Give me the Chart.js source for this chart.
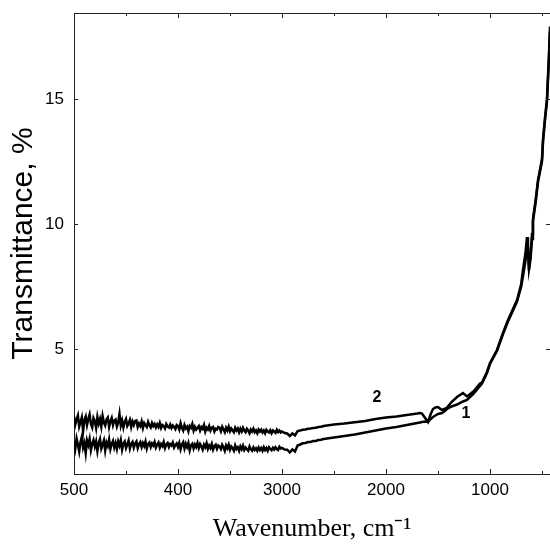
<!DOCTYPE html>
<html>
<head>
<meta charset="utf-8">
<script src="https://cdn.jsdelivr.net/npm/chart.js@4.4.1/dist/chart.umd.min.js"></script>
<style>
  html, body { margin: 0; padding: 0; background: #fff; }
  #wrap { width: 550px; height: 547px; }
</style>
</head>
<body>
<div id="wrap"><canvas id="spectrum"></canvas></div>
<script>
// Wavenumbers (cm-1), shared by both spectra
const wavenumbers = [
  5000, 4987.5, 4975, 4962.5, 4950, 4937.5, 4925, 4912.5, 4900, 4887.5, 4875, 4862.5, 4850, 4837.5, 4825, 4812.5,
  4800, 4787.5, 4775, 4762.5, 4750, 4737.5, 4725, 4712.5, 4700, 4687.5, 4675, 4662.5, 4650, 4637.5, 4625, 4612.5,
  4600, 4587.5, 4575, 4562.5, 4550, 4537.5, 4525, 4512.5, 4500, 4487.5, 4475, 4462.5, 4450, 4437.5, 4425, 4412.5,
  4400, 4387.5, 4375, 4362.5, 4350, 4337.5, 4325, 4312.5, 4300, 4287.5, 4275, 4262.5, 4250, 4237.5, 4225, 4212.5,
  4200, 4187.5, 4175, 4162.5, 4150, 4137.5, 4125, 4112.5, 4100, 4087.5, 4075, 4062.5, 4050, 4037.5, 4025, 4012.5,
  4000, 3987.5, 3975, 3962.5, 3950, 3937.5, 3925, 3912.5, 3900, 3887.5, 3875, 3862.5, 3850, 3837.5, 3825, 3812.5,
  3800, 3787.5, 3775, 3762.5, 3750, 3737.5, 3725, 3712.5, 3700, 3687.5, 3675, 3662.5, 3650, 3637.5, 3625, 3612.5,
  3600, 3587.5, 3575, 3562.5, 3550, 3537.5, 3525, 3512.5, 3500, 3487.5, 3475, 3462.5, 3450, 3437.5, 3425, 3412.5,
  3400, 3387.5, 3375, 3362.5, 3350, 3337.5, 3325, 3312.5, 3300, 3287.5, 3275, 3262.5, 3250, 3237.5, 3225, 3212.5,
  3200, 3187.5, 3175, 3162.5, 3150, 3137.5, 3125, 3112.5, 3100, 3087.5, 3075, 3062.5, 3050, 3037.5, 3025, 3012.5,
  3000, 2975, 2950, 2925, 2900, 2875, 2850, 2825, 2800, 2775, 2750, 2725, 2700, 2675, 2650, 2625, 2600,
  2500, 2400, 2300, 2200, 2100, 2000, 1900, 1800, 1700, 1673, 1654, 1620, 1596, 1570, 1548,
  1525, 1500, 1462, 1440, 1413, 1370, 1317, 1260, 1221, 1160, 1096, 1077, 1029, 1000, 933, 875,
  827, 740, 700, 683, 660, 644, 635, 625, 610, 596, 587, 560, 538, 500, 490, 470, 452, 433, 423
];

// Curve 1 (lower), transmittance %
const curve1 = [
  1.30, 1.02, 1.42, 1.18, 0.90, 1.28, 1.48, 1.06, 1.24, 0.84, 1.34, 1.16, 1.40, 0.96, 1.22, 1.36,
  1.10, 1.30, 0.92, 1.24, 1.40, 1.02, 1.18, 1.34, 0.94, 1.26, 1.12, 1.38, 1.00, 1.20, 1.32, 1.06,
  1.24, 1.00, 1.30, 1.14, 1.36, 0.98, 1.22, 1.30, 1.04, 1.18, 1.34, 1.02, 1.20, 1.28, 1.06, 1.22,
  1.30, 1.04, 1.20, 1.28, 1.08, 1.24, 1.12, 1.30, 1.02, 1.20, 1.26, 1.08, 1.22, 1.14, 1.28, 1.06,
  1.18, 1.26, 1.06, 1.20, 1.12, 1.28, 1.04, 1.18, 1.24, 1.08, 1.20, 1.14, 1.26, 1.06, 1.16, 1.22,
  1.08, 1.24, 0.99, 1.18, 1.27, 1.02, 1.21, 1.08, 1.24, 0.95, 1.15, 1.21, 1.02, 1.18, 1.08, 1.24,
  1.04, 1.20, 1.11, 0.98, 1.17, 1.07, 1.23, 1.01, 1.14, 1.04, 1.20, 0.98, 1.11, 1.17, 1.01, 1.14,
  1.10, 1.00, 1.17, 1.07, 0.93, 1.14, 1.03, 1.17, 0.97, 1.10, 1.03, 0.93, 1.14, 1.00, 1.07, 0.93,
  1.10, 0.99, 1.13, 0.96, 1.06, 0.99, 0.93, 1.10, 0.99, 0.93, 1.06, 0.96, 1.03, 0.93, 1.06, 0.96,
  1.04, 0.93, 1.07, 0.96, 1.04, 0.93, 1.07, 1.00, 0.95, 1.05, 0.98, 1.07, 1.00, 0.96, 1.09, 1.02,
  1.04, 0.98, 0.97, 0.86, 0.98, 0.90, 1.14, 1.18, 1.23, 1.24, 1.28, 1.28, 1.32, 1.32, 1.36, 1.37, 1.40,
  1.46, 1.52, 1.58, 1.66, 1.74, 1.82, 1.88, 1.96, 2.04, 2.06, 2.08, 2.10, 2.08, 2.20, 2.28,
  2.34, 2.40, 2.44, 2.50, 2.60, 2.70, 2.78, 2.90, 2.96, 3.20, 3.52, 3.62, 4.04, 4.40, 4.92, 5.60,
  6.10, 6.90, 7.50, 7.90, 8.50, 9.00, 9.10, 8.20, 8.60, 9.40, 10.10, 10.90, 11.70, 12.50, 13.30, 14.20, 14.90, 16.60, 17.70
];

// Curve 2 (upper), transmittance %
const curve2 = [
  2.30, 1.98, 2.18, 2.34, 1.90, 2.08, 2.26, 1.72, 2.16, 2.30, 1.96, 2.20, 2.38, 2.00, 1.86, 2.24,
  2.12, 1.84, 2.28, 2.02, 2.20, 1.90, 2.32, 2.06, 1.94, 2.18, 2.26, 1.88, 2.10, 2.24, 1.96, 2.14,
  2.18, 1.90, 2.06, 2.40, 1.94, 2.14, 1.86, 2.08, 2.20, 1.92, 2.02, 2.16, 1.88, 2.10, 1.96, 2.12,
  2.14, 1.88, 2.02, 1.92, 2.10, 1.84, 2.04, 1.96, 1.88, 2.08, 1.94, 1.86, 2.04, 1.92, 2.00, 1.86,
  1.98, 1.88, 2.04, 1.84, 1.96, 1.92, 1.82, 2.00, 1.90, 1.86, 1.98, 1.84, 1.94, 1.88, 1.80, 1.96,
  1.92, 1.78, 2.03, 1.85, 1.74, 1.96, 1.82, 1.89, 1.71, 1.92, 1.85, 2.00, 1.74, 1.89, 1.78, 1.85,
  1.92, 1.74, 1.88, 1.81, 1.96, 1.70, 1.85, 1.78, 1.92, 1.74, 1.85, 1.88, 1.70, 1.81, 1.78, 1.88,
  1.85, 1.71, 1.89, 1.78, 1.67, 1.85, 1.74, 1.89, 1.71, 1.82, 1.74, 1.67, 1.85, 1.74, 1.82, 1.67,
  1.81, 1.70, 1.85, 1.74, 1.67, 1.81, 1.74, 1.63, 1.78, 1.70, 1.81, 1.67, 1.74, 1.63, 1.78, 1.70,
  1.77, 1.66, 1.74, 1.63, 1.77, 1.70, 1.66, 1.75, 1.63, 1.74, 1.70, 1.65, 1.77, 1.68, 1.74, 1.66,
  1.70, 1.64, 1.62, 1.52, 1.62, 1.54, 1.72, 1.74, 1.77, 1.78, 1.81, 1.82, 1.84, 1.85, 1.88, 1.89, 1.92,
  1.98, 2.02, 2.07, 2.12, 2.20, 2.26, 2.30, 2.36, 2.42, 2.44, 2.42, 2.22, 2.08, 2.40, 2.60,
  2.66, 2.68, 2.56, 2.60, 2.66, 2.88, 3.08, 3.24, 3.10, 3.30, 3.62, 3.66, 4.08, 4.44, 4.96, 5.64,
  6.16, 6.96, 7.60, 8.16, 8.80, 9.48, 9.00, 8.16, 8.80, 9.60, 10.20, 11.00, 11.76, 12.60, 13.40, 14.30, 15.00, 16.80, 17.90
];

// Axis ticks
const xTickValues = [5000, 4000, 3000, 2000, 1000];
const xTickLabels = ["500", "400", "3000", "2000", "1000"];
const xMinorTicks = [4500, 3500, 2500, 1500, 500];
const yTickValues = [5, 10, 15];

// Curve labels, placed in data units
const curveLabels = [
  { text: "2", x: 2087, y: 3.04 },
  { text: "1", x: 1231, y: 2.40 }
];

const frameTicks = {
  id: "frameTicks",
  afterDatasetsDraw(chart) {
    const { ctx, chartArea: a, scales: { x, y } } = chart;
    ctx.save();
    ctx.strokeStyle = "#222";
    ctx.lineWidth = 1;
    ctx.beginPath();
    ctx.moveTo(a.left, a.top + 0.5);
    ctx.lineTo(a.right, a.top + 0.5);
    const xTick = (v, len) => {
      const px = Math.round(x.getPixelForValue(v)) + 0.5;
      ctx.moveTo(px, a.bottom); ctx.lineTo(px, a.bottom - len);
      ctx.moveTo(px, a.top); ctx.lineTo(px, a.top + len);
    };
    xTickValues.forEach(v => xTick(v, 5));
    xMinorTicks.forEach(v => xTick(v, 3));
    yTickValues.forEach(v => {
      const py = Math.round(y.getPixelForValue(v)) + 0.5;
      ctx.moveTo(a.left, py); ctx.lineTo(a.left + 4, py);
      ctx.moveTo(a.right, py); ctx.lineTo(a.right - 4, py);
    });
    ctx.stroke();

    ctx.fillStyle = "#000";
    ctx.font = "bold 16px 'Liberation Sans', Arial, sans-serif";
    ctx.textAlign = "center";
    ctx.textBaseline = "middle";
    curveLabels.forEach(l => {
      ctx.fillText(l.text, x.getPixelForValue(l.x), y.getPixelForValue(l.y));
    });
    ctx.restore();
  }
};

document.addEventListener("DOMContentLoaded", function () {
  const ctx = document.getElementById("spectrum").getContext("2d");

  const lineStyle = {
    borderColor: "#000",
    borderWidth: 2.5,
    pointRadius: 0,
    tension: 0,
    fill: false
  };

  new Chart(ctx, {
    type: "line",
    data: {
      datasets: [
        { label: "1", data: wavenumbers.map((w, i) => ({ x: w, y: curve1[i] })), ...lineStyle },
        { label: "2", data: wavenumbers.map((w, i) => ({ x: w, y: curve2[i] })), ...lineStyle }
      ]
    },
    options: {
      responsive: true,
      maintainAspectRatio: false,
      animation: false,
      layout: { padding: { top: 13, right: 0, left: 0, bottom: 0 } },
      plugins: { legend: { display: false }, tooltip: { enabled: false } },
      scales: {
        x: {
          type: "linear",
          reverse: true,
          min: 423,
          max: 5000,
          afterBuildTicks: s => { s.ticks = xTickValues.map(v => ({ value: v })); },
          afterFit: s => { s.height = 73; s.paddingLeft = 0; s.paddingRight = 0; },
          grid: { display: false, drawTicks: false },
          border: { display: true, color: "#222", width: 1 },
          ticks: {
            color: "#000",
            padding: 6,
            maxRotation: 0,
            font: { family: "'Liberation Sans', Arial, sans-serif", size: 17 },
            callback: v => xTickLabels[xTickValues.indexOf(v)]
          },
          title: {
            display: true,
            text: "Wavenumber, cm\u207B\u00B9",
            color: "#000",
            padding: { top: 0, bottom: 2 },
            font: { family: "'Liberation Serif', 'Times New Roman', serif", size: 26, weight: "normal" }
          }
        },
        y: {
          type: "linear",
          min: 0,
          max: 18.44,
          afterBuildTicks: s => { s.ticks = yTickValues.map(v => ({ value: v })); },
          afterFit: s => { s.width = 74; s.paddingTop = 0; s.paddingBottom = 0; },
          grid: { display: false, drawTicks: false },
          border: { display: true, color: "#222", width: 1 },
          ticks: {
            color: "#000",
            padding: 10,
            font: { family: "'Liberation Sans', Arial, sans-serif", size: 17 }
          },
          title: {
            display: true,
            text: "Transmittance, %",
            color: "#000",
            padding: { top: 6, bottom: 0 },
            font: { family: "'Liberation Sans', Arial, sans-serif", size: 30, weight: "normal" }
          }
        }
      }
    },
    plugins: [frameTicks]
  });
});
</script>
</body>
</html>
